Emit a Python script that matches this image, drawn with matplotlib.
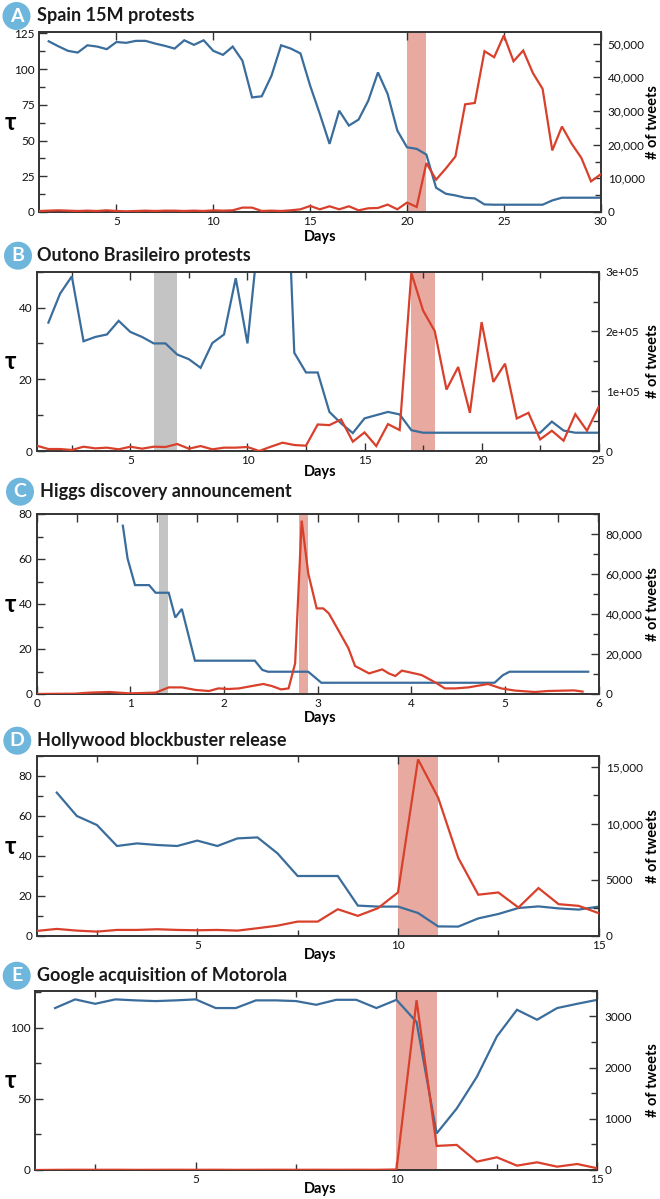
import numpy as np
import matplotlib
matplotlib.use("Agg")
import matplotlib.pyplot as plt
from matplotlib.ticker import MultipleLocator, FuncFormatter
from matplotlib.patches import Circle

plt.rcParams['font.family'] = ['Lato', 'DejaVu Sans']

BLUE = "#3a6d9c"
RED = "#d9402c"
SHADE_RED = "#e8aaa0"
SHADE_GRAY = "#c4c4c4"
SPINE = "#333333"

# ---------------- Panel A : Spain 15M protests ----------------
a_title = "Spain 15M protests"
a_tau_days = np.arange(1.5, 30.01, 0.5)
a_tau = [119.5, 116, 112.8, 111.6, 116.7, 115.8, 114, 119, 118.4, 119.8,
         119.8, 117.9, 116.3, 114.4, 120.2, 117, 120.2, 112.8, 110, 115.8,
         106, 80.2, 81, 95.3, 116.7, 114.4, 111, 88.4, 68.6, 47.7,
         70.9, 60.5, 64.7, 77.9, 97.7, 82.6, 57, 45.3, 44.2, 40.2,
         17, 12.8, 11.6, 10, 9.5, 5.3, 5.1, 5.1, 5.1, 5.1,
         5.1, 5.1, 8.1, 10, 10, 10, 10, 10]
a_tw_days = np.arange(1.0, 30.01, 0.5)
a_tweets = [300, 400, 500, 400, 300, 400, 300, 500, 300, 200,
            300, 400, 300, 400, 400, 300, 400, 300, 500, 400,
            500, 1300, 1300, 300, 400, 300, 500, 800, 1800, 800,
            1700, 800, 1700, 500, 1100, 1200, 2200, 800, 2800, 1500,
            14550, 9600, 12900, 16500, 32000, 32400, 47800, 46000, 52500, 44800,
            48000, 41300, 36600, 18300, 25400, 20300, 16100, 9100, 11200]
a_red_span = (20, 21)
a_gray_span = None

# ---------------- Panel B : Outono Brasileiro protests ----------------
b_title = "Outono Brasileiro protests"
b_tau_days = np.arange(1.5, 25.01, 0.5)
b_tau = [35.8, 43.9, 48.7, 30.6, 31.8, 32.5, 36.3, 33.2, 31.8, 30,
         30, 26.9, 25.6, 23.2, 30.1, 32.5, 48.2, 30, 62, 95,
         108, 27.4, 21.9, 21.9, 10.9, 7.7, 5.0, 9.1, 10, 10.9,
         10.2, 5.8, 5.1, 5.1, 5.1, 5.1, 5.1, 5.1, 5.1, 5.1,
         5.1, 5.1, 5.1, 8.2, 5.7, 5.1, 5.1, 5.1]
b_tw_days = np.arange(1.0, 25.01, 0.5)
b_tweets = [8900, 3300, 3300, 1700, 7200, 4400, 5600, 2800, 7200, 3900,
            7200, 6700, 11700, 3900, 8300, 2800, 5600, 5600, 6700, 0,
            7200, 13900, 10000, 8900, 44400, 43300, 52800, 15600, 31100, 8300,
            45000, 35000, 297800, 235000, 200500, 102800, 140600, 63900, 215600, 115600,
            146100, 54400, 63900, 19400, 33900, 17200, 61700, 33900, 73900]
b_red_span = (17, 18)
b_gray_span = (6, 7)

# ---------------- Panel C : Higgs discovery announcement ----------------
c_title = "Higgs discovery announcement"
c_tau_days = [0.92, 0.97, 1.05, 1.2, 1.27, 1.41, 1.48, 1.55, 1.69, 2.33,
              2.41, 2.47, 2.9, 3.04, 4.89, 4.98, 5.05, 5.89]
c_tau = [74.8, 60.3, 48.4, 48.4, 45, 45, 34, 37.8, 14.8, 14.8,
         10.7, 9.9, 9.9, 5.0, 5.0, 8.4, 9.9, 9.9]
c_tw_days = [0, 0.2, 0.4, 0.57, 0.78, 0.99, 1.27, 1.41, 1.55, 1.7,
             1.84, 1.94, 2.05, 2.16, 2.3, 2.42, 2.51, 2.61, 2.69, 2.76,
             2.83, 2.9, 2.99, 3.06, 3.12, 3.23, 3.33, 3.4, 3.55, 3.69,
             3.76, 3.83, 3.9, 4.11, 4.26, 4.36, 4.47, 4.61, 4.82, 4.96,
             5.11, 5.32, 5.46, 5.74, 5.83]
c_tweets = [0, 100, 150, 700, 1000, 300, 700, 3300, 3300, 2000,
            1500, 2800, 2500, 2800, 4000, 5000, 4000, 2300, 2800, 15300,
            86700, 60300, 42800, 42800, 40300, 31200, 22800, 14000, 10300, 12300,
            10300, 9000, 11700, 9500, 5700, 2800, 2800, 3300, 5000, 2800,
            1700, 1000, 1500, 1800, 1200]
c_red_span = (2.80, 2.90)
c_gray_span = (1.31, 1.40)

# ---------------- Panel D : Hollywood blockbuster release ----------------
d_title = "Hollywood blockbuster release"
d_tau_days = np.arange(1.5, 15.01, 0.5)
d_tau = [71.7, 60, 55.5, 45, 46.3, 45.5, 45, 47.7, 45, 48.8,
         49.3, 41.3, 30, 30, 30, 15.2, 14.7, 14.7, 11.5, 4.8,
         4.7, 8.8, 11, 14, 14.8, 13.8, 13.2, 14.7]
d_tw_days = np.arange(1.0, 15.01, 0.5)
d_tweets = [450, 630, 480, 390, 540, 540, 600, 540, 510, 540,
            480, 690, 920, 1280, 1280, 2380, 1790, 2470, 3870, 15700,
            12300, 6950, 3670, 3870, 2530, 4260, 2830, 2680, 2030]
d_red_span = (10, 11)
d_gray_span = None

# ---------------- Panel E : Google acquisition of Motorola ----------------
e_title = "Google acquisition of Motorola"
e_tau_days = np.arange(1.5, 15.01, 0.5)
e_tau = [113.8, 119.9, 116.8, 119.9, 119.2, 118.7, 119.2, 119.9, 113.8, 113.8,
         119.2, 119.2, 118.7, 116.1, 119.6, 119.6, 113.8, 119.6, 104, 25.7,
         43.2, 65.4, 93.9, 112.6, 105.6, 113.8, 116.8, 119.6]
e_tw_days = np.arange(1.0, 15.01, 0.5)
e_tweets = [0, 3, 5, 4, 5, 3, 4, 5, 4, 5,
            3, 4, 5, 4, 5, 4, 5, 4, 10, 3314,
            470, 490, 163, 248, 85, 150, 65, 117, 33]
e_red_span = (10, 11)
e_gray_span = None

# ---------------- layout helpers ----------------
W, H = 660, 1199
fig = plt.figure(figsize=(W / 100, H / 100), dpi=100)


def rect(l, t, r, b):
    return [l / W, 1 - b / H, (r - l) / W, (b - t) / H]


def tw_fmt(sci):
    def f(v, pos):
        if v == 0:
            return "0"
        if sci:
            return "%de+05" % round(v / 1e5)
        if v >= 10000:
            return "{:,.0f}".format(v)
        return "%d" % v
    return f


panels = [
    dict(letter="A", title=a_title, box=(39, 32, 600.7, 212), td=a_tau_days, tau=a_tau,
         wd=a_tw_days, tw=a_tweets, red=a_red_span, gray=a_gray_span,
         xlim=(1, 30), xmaj=5, xmin=None, ylim=(0, 126), ymaj=25, ymin=12.5,
         y2lim=(0, 53500), y2maj=10000, y2min=5000, sci=False,
         badge=(16.5, 16), title_xy=(37, 16), days_y=237),
    dict(letter="B", title=b_title, box=(36.7, 271.7, 598.7, 451), td=b_tau_days, tau=b_tau,
         wd=b_tw_days, tw=b_tweets, red=b_red_span, gray=b_gray_span,
         xlim=(1, 25), xmaj=5, xmin=2.5, ylim=(0, 50), ymaj=20, ymin=10,
         y2lim=(0, 300000), y2maj=100000, y2min=50000, sci=True,
         badge=(18, 255.7), title_xy=(37, 255.7), days_y=472),
    dict(letter="C", title=c_title, box=(36.7, 514, 598.5, 694), td=c_tau_days, tau=c_tau,
         wd=c_tw_days, tw=c_tweets, red=c_red_span, gray=c_gray_span,
         xlim=(0, 6), xmaj=1, xmin=None, ylim=(0, 80), ymaj=20, ymin=10,
         y2lim=(0, 90000), y2maj=20000, y2min=10000, sci=False,
         badge=(20, 491.7), title_xy=(40, 492), days_y=718, top3_7=True),
    dict(letter="D", title=d_title, box=(36.7, 756, 598.7, 936), td=d_tau_days, tau=d_tau,
         wd=d_tw_days, tw=d_tweets, red=d_red_span, gray=d_gray_span,
         xlim=(1, 15), xmaj=5, xmin=2.5, ylim=(0, 90), ymaj=20, ymin=10,
         y2lim=(0, 16000), y2maj=5000, y2min=2500, sci=False,
         badge=(17.3, 740.7), title_xy=(37, 740.7), days_y=955),
    dict(letter="E", title=e_title, box=(35, 990.7, 597.3, 1170), td=e_tau_days, tau=e_tau,
         wd=e_tw_days, tw=e_tweets, red=e_red_span, gray=e_gray_span,
         xlim=(1, 15), xmaj=5, xmin=2.5, ylim=(0, 126), ymaj=50, ymin=25,
         y2lim=(0, 3500), y2maj=1000, y2min=500, sci=False,
         badge=(16.7, 975.7), title_xy=(37, 975.7), days_y=1189),
]

TICK_FS = 8.5
for p in panels:
    l, t, r, b = p["box"]
    ax = fig.add_axes(rect(l, t, r, b))
    ax2 = ax.twinx()
    ax.set_zorder(1)
    ax2.set_zorder(2)
    ax.patch.set_visible(True)
    ax2.patch.set_visible(False)

    if p["gray"] is not None:
        ax.axvspan(*p["gray"], color=SHADE_GRAY, lw=0, zorder=0)
    ax.axvspan(*p["red"], color=SHADE_RED, lw=0, zorder=0)

    ax.plot(p["td"], p["tau"], color=BLUE, lw=1.6, zorder=2, solid_joinstyle="miter")
    ax2.plot(p["wd"], p["tw"], color=RED, lw=1.6, zorder=3, solid_joinstyle="miter")

    ax.set_xlim(*p["xlim"])
    ax.set_ylim(*p["ylim"])
    ax2.set_ylim(*p["y2lim"])

    ax.xaxis.set_major_locator(MultipleLocator(p["xmaj"]))
    if p["xmin"]:
        ax.xaxis.set_minor_locator(MultipleLocator(p["xmin"]))
    ax.yaxis.set_major_locator(MultipleLocator(p["ymaj"]))
    ax.yaxis.set_minor_locator(MultipleLocator(p["ymin"]))
    ax2.yaxis.set_major_locator(MultipleLocator(p["y2maj"]))
    ax2.yaxis.set_minor_locator(MultipleLocator(p["y2min"]))
    ax2.yaxis.set_major_formatter(FuncFormatter(tw_fmt(p["sci"])))

    top_on = not p.get("top3_7", False)
    ax.tick_params(axis="x", which="both", direction="in", top=top_on, bottom=True,
                   colors=SPINE, labelcolor="#111111", labelsize=TICK_FS, pad=3)
    ax.tick_params(axis="y", which="both", direction="in", left=True, right=False,
                   colors=SPINE, labelcolor="#111111", labelsize=TICK_FS, pad=3)
    ax2.tick_params(axis="y", which="both", direction="in", right=True,
                    colors=SPINE, labelcolor="#111111", labelsize=TICK_FS, pad=5)
    for a in (ax, ax2):
        a.tick_params(which="major", length=6, width=1.0)
        a.tick_params(which="minor", length=4, width=1.0)
        for s in a.spines.values():
            s.set_color(SPINE)
            s.set_linewidth(1.2)

    if p.get("top3_7", False):
        sec = ax.secondary_xaxis("top")
        sec.xaxis.set_major_locator(MultipleLocator(3 / 7))
        sec.tick_params(direction="in", length=6, width=1.0, colors=SPINE, labeltop=False)
        sec.spines["top"].set_visible(False)

    # labels
    fig.text(10 / W, 1 - ((t + b) / 2) / H, "τ", fontsize=17, fontweight="bold",
             ha="center", va="center")
    fig.text(653 / W, 1 - ((t + b) / 2) / H, "# of tweets", fontsize=10.5, fontweight="bold",
             rotation=90, ha="center", va="center")
    fig.text(320 / W, 1 - p["days_y"] / H, "Days", fontsize=10.5, fontweight="bold",
             ha="center", va="center")

    # badge + title
    bx, by = p["badge"]
    fig.patches.append(Circle((bx / 100, (H - by) / 100), 0.14, transform=fig.dpi_scale_trans,
                              facecolor="#6fb6dc", edgecolor="none", zorder=5))
    fig.text(bx / W, 1 - by / H, p["letter"], color="white", fontsize=14, fontweight="bold",
             ha="center", va="center", zorder=6)
    tx, ty = p["title_xy"]
    fig.text(tx / W, 1 - ty / H, p["title"], fontsize=13, fontweight="bold",
             ha="left", va="center", color="#1a1a1a")

fig.savefig("out.png", dpi=100)
